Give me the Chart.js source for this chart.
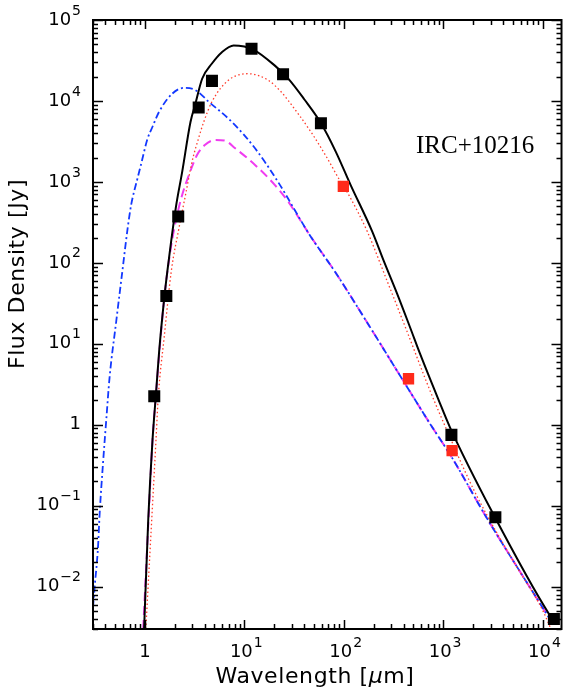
<!DOCTYPE html>
<html>
<head>
<meta charset="utf-8">
<script src="https://cdn.jsdelivr.net/npm/chart.js@4.4.1/dist/chart.umd.min.js"></script>
<style>
  html, body { margin: 0; padding: 0; background: #fff; }
  #wrap { width: 570px; height: 691px; }
</style>
</head>
<body>
<div id="wrap"><canvas id="sed"></canvas></div>
<script>
// ===== data (wavelength in micron, flux density in Jy) =====
// photometry, black squares
const obsWave = [1.24, 1.64, 2.16, 3.47, 4.72, 11.8, 24.5, 58.9, 1210, 3350, 13000];
const obsFlux = [2.25, 39, 375, 8300, 17700, 44000, 21400, 5300, 0.75, 0.072, 0.004];
// photometry, red squares
const redWave = [99, 448, 1230];
const redFlux = [880, 3.7, 0.48];

// total model, black solid
const totWave = [0.98, 1.08, 1.19, 1.29, 1.39, 1.56, 1.68, 2.04, 2.37, 2.87, 3.22, 3.76, 4.72, 5.94, 7.8, 10, 12, 20, 27.5, 40, 59, 83, 117, 193, 253, 343, 465, 586, 890, 1170, 3170, 11600, 13000];
const totFlux = [0.003, 0.07, 0.64, 2.4, 8.2, 36, 79, 475, 1340, 5500, 9300, 18800, 29000, 40000, 48500, 47000, 44000, 27700, 19000, 10500, 5300, 2370, 920, 245, 105, 42, 15.9, 7.5, 2.09, 0.93, 0.08, 0.0046, 0.0038];

// red dotted model
const dotWave = [1.02, 1.29, 1.36, 1.56, 1.84, 2.2, 2.56, 2.98, 3.47, 3.9, 4.72, 6.9, 10.9, 17.4, 23.5, 27.5, 47, 66, 93, 113, 172, 273, 430, 737, 1170, 1846, 2700, 5500, 9950, 12000];
const dotFlux = [0.003, 0.64, 2.2, 12, 79, 270, 695, 1790, 3500, 5500, 9800, 18000, 21700, 18000, 12900, 10200, 4100, 2100, 1000, 680, 245, 59.6, 14.5, 2.64, 0.7, 0.2, 0.08, 0.0176, 0.0052, 0.0031];

// blue dash-dot model
const bluWave = [0.3, 0.312, 0.337, 0.35, 0.378, 0.409, 0.44, 0.514, 0.598, 0.67, 0.726, 0.84, 0.91, 1.06, 1.19, 1.39, 1.88, 2.47, 3.22, 4.37, 7.5, 12.8, 21.8, 45.2, 83.2, 160, 343, 737, 1230, 2700, 5800, 12300];
const bluFlux = [0.0055, 0.01, 0.031, 0.08, 0.33, 1.2, 3.8, 19, 87, 270, 520, 1100, 1620, 3400, 4800, 7400, 12300, 14500, 13600, 9800, 5500, 2600, 1000, 223, 75, 21.1, 4.66, 1.03, 0.39, 0.073, 0.016, 0.0037];

// magenta dashed model
const magWave = [0.96, 1.08, 1.19, 1.29, 1.56, 1.82, 2.11, 2.37, 2.77, 3.34, 4.0, 5.1, 6.3, 8.08, 12.8, 20.2, 27.5, 45.2, 83.2, 160, 343, 737, 1230, 2700, 5800, 12300];
const magFlux = [0.003, 0.06, 0.64, 2.4, 36, 153, 395, 695, 1220, 2150, 2850, 3300, 3250, 2600, 1620, 920, 575, 223, 75, 21.1, 4.66, 1.03, 0.39, 0.073, 0.016, 0.0037];

// axes
const xRange = [0.3, 1.55e4];
const yRange = [3e-3, 1e5];
const xTickExp = [0, 1, 2, 3, 4];
const yTickExp = [-2, -1, 0, 1, 2, 3, 4, 5];

const pts = (w, f) => w.map((v, i) => ({ x: v, y: f[i] }));

// frame, inward ticks, labels and titles drawn against the chart's own scales
const frame = {
    id: 'frame',
    afterDatasetsDraw(chart) {
        const { ctx, chartArea: a, scales: { x, y } } = chart;
        ctx.save();
        ctx.strokeStyle = '#000';
        ctx.lineWidth = 1.5;
        ctx.beginPath();
        for (let d = -1; d <= 4; d++) {
            for (let m = 1; m <= 9; m++) {
                const v = m * Math.pow(10, d);
                if (v < xRange[0] || v > xRange[1]) continue;
                const px = Math.round(x.getPixelForValue(v)) + 0.5;
                const len = m === 1 ? 9 : 5;
                ctx.moveTo(px, a.bottom); ctx.lineTo(px, a.bottom - len);
                ctx.moveTo(px, a.top); ctx.lineTo(px, a.top + len);
            }
        }
        for (let d = -3; d <= 5; d++) {
            for (let m = 1; m <= 9; m++) {
                const v = m * Math.pow(10, d);
                if (v < yRange[0] * 0.999 || v > yRange[1] * 1.001) continue;
                const py = Math.round(y.getPixelForValue(v)) + 0.5;
                const len = m === 1 ? 10 : 5;
                ctx.moveTo(a.left, py); ctx.lineTo(a.left + len, py);
                ctx.moveTo(a.right, py); ctx.lineTo(a.right - len, py);
            }
        }
        ctx.stroke();
        ctx.lineWidth = 2;
        ctx.strokeRect(a.left, a.top, a.right - a.left, a.bottom - a.top);

        // tick labels
        const base = "18px 'DejaVu Sans', sans-serif";
        const sup = "14px 'DejaVu Sans', sans-serif";
        ctx.fillStyle = '#000';
        ctx.textBaseline = 'middle';
        ctx.textAlign = 'left';
        const parts = e => e === 0 ? ['1', ''] : ['10', String(e).replace('-', '\u2212')];
        const widths = p => {
            ctx.font = base; const w1 = ctx.measureText(p[0]).width;
            ctx.font = sup; const w2 = p[1] ? ctx.measureText(p[1]).width + 1 : 0;
            return [w1, w2];
        };
        const drawLabel = (p, left, cy) => {
            const [w1] = widths(p);
            ctx.font = base; ctx.fillText(p[0], left, cy);
            if (p[1]) { ctx.font = sup; ctx.fillText(p[1], left + w1 + 1, cy - 9); }
        };
        xTickExp.forEach(e => {
            const p = parts(e);
            const [w1] = widths(p);
            const px = x.getPixelForValue(Math.pow(10, e));
            drawLabel(p, e === 0 ? px - w1 / 2 : px - 14.5, 652);
        });
        yTickExp.forEach(e => {
            const p = parts(e);
            const [w1, w2] = widths(p);
            const py = y.getPixelForValue(Math.pow(10, e));
            drawLabel(p, 81 - w1 - w2, py);
        });

        // axis titles
        ctx.textBaseline = 'alphabetic';
        ctx.letterSpacing = '0.6px';
        const tf = "22px 'DejaVu Sans', sans-serif";
        const tfi = "italic 22px 'DejaVu Sans', sans-serif";
        const t1 = 'Wavelength [', t2 = '\u03bc', t3 = 'm]';
        ctx.font = tf;
        const w1 = ctx.measureText(t1).width;
        ctx.font = tfi;
        const w2 = ctx.measureText(t2).width;
        ctx.font = tf;
        const w3 = ctx.measureText(t3).width;
        const tx = 315 - (w1 + w2 + w3) / 2;
        ctx.fillText(t1, tx, 683);
        ctx.font = tfi;
        ctx.fillText(t2, tx + w1, 683);
        ctx.font = tf;
        ctx.fillText(t3, tx + w1 + w2, 683);

        ctx.save();
        ctx.translate(24, 274);
        ctx.rotate(-Math.PI / 2);
        ctx.textAlign = 'center';
        ctx.fillText('Flux Density [Jy]', 0, 0);
        ctx.restore();
        ctx.letterSpacing = '0px';

        // source name
        ctx.font = "25px 'Liberation Serif', serif";
        ctx.textAlign = 'left';
        ctx.fillText('IRC+10216', 416, 153);
        ctx.restore();
    }
};

const lineSet = (label, w, f, color, width, dash, order) => ({
    label, data: pts(w, f), showLine: true, borderColor: color, borderWidth: width,
    borderDash: dash, pointRadius: 0, cubicInterpolationMode: 'monotone', fill: false, order
});

new Chart(document.getElementById('sed'), {
    type: 'scatter',
    data: {
        datasets: [
            { label: 'obs', data: pts(obsWave, obsFlux), pointStyle: 'rect', pointRadius: 8.5, backgroundColor: '#000', borderWidth: 0, order: 0 },
            { label: 'obs2', data: pts(redWave, redFlux), pointStyle: 'rect', pointRadius: 8, backgroundColor: '#ff2a1a', borderWidth: 0, order: 0 },
            lineSet('total', totWave, totFlux, '#000', 2, [], 1),
            lineSet('dust', dotWave, dotFlux, '#ff3a2a', 1.3, [1.5, 2.5], 2),
            lineSet('star', bluWave, bluFlux, '#1238ff', 1.8, [7, 3, 2, 3], 3),
            lineSet('shell', magWave, magFlux, '#f03cf0', 2, [9, 5], 4)
        ]
    },
    options: {
        responsive: true, maintainAspectRatio: false, animation: false,
        layout: { padding: { left: 93, top: 20, right: 4, bottom: 62 } },
        scales: {
            x: { type: 'logarithmic', min: xRange[0], max: xRange[1], display: false },
            y: { type: 'logarithmic', min: yRange[0], max: yRange[1], display: false }
        },
        plugins: { legend: { display: false }, tooltip: { enabled: false } }
    },
    plugins: [frame]
});
</script>
</body>
</html>
